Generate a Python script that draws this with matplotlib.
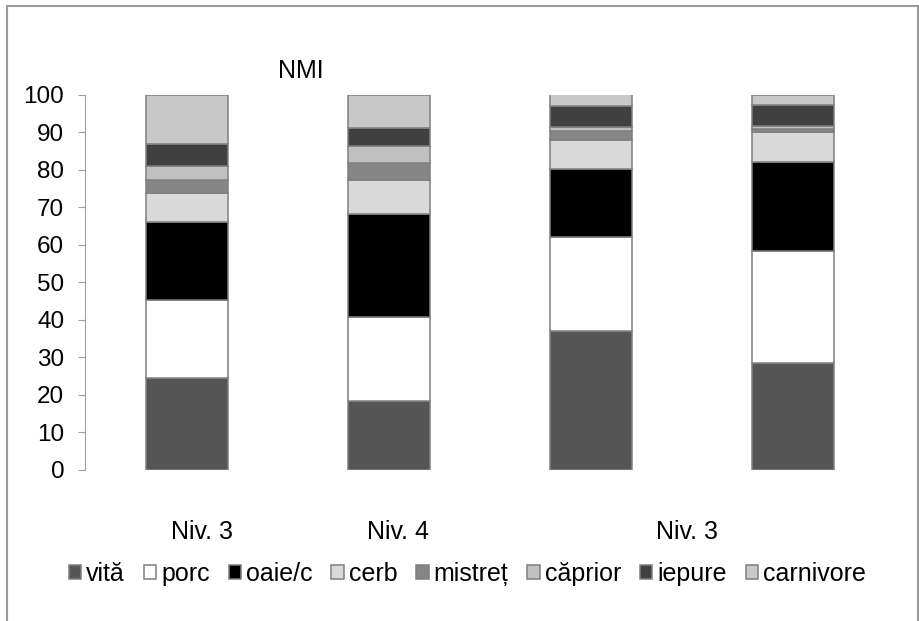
import matplotlib.pyplot as plt
import matplotlib.patches as mpatches
import numpy as np

plt.rcParams['font.family'] = ['Liberation Sans', 'DejaVu Sans']

# data (percent of NMI per bar)
species = ['vită', 'porc', 'oaie/c', 'cerb', 'mistreț', 'căprior', 'iepure', 'carnivore']
vita = [24.5, 18.5, 37.1, 28.6]
porc = [20.7, 22.4, 24.9, 29.8]
oaie = [20.8, 27.4, 18.3, 23.8]
cerb = [7.8, 8.9, 7.6, 7.8]
mistret = [3.5, 4.7, 2.5, 1.0]
caprior = [3.8, 4.5, 1.1, 0.6]
iepure = [5.8, 4.7, 5.6, 5.6]
carnivore = [13.1, 8.9, 3.1, 2.7]
group_labels = ['Niv. 3', 'Niv. 4', 'Niv. 3']
colors = ['#555555', '#ffffff', '#000000', '#d9d9d9', '#868686', '#c0c0c0', '#404040', '#c8c8c8']

series = [vita, porc, oaie, cerb, mistret, caprior, iepure, carnivore]

fig = plt.figure(figsize=(9.2, 6.21), dpi=100)
ax = fig.add_axes([0.0924, 0.2432, 0.880, 0.604])

x = np.arange(len(vita))
bottom = np.zeros(len(vita))
for name, vals, c in zip(species, series, colors):
    ax.bar(x, vals, width=0.405, bottom=bottom, color=c, edgecolor='#7f7f7f',
           linewidth=1.1, label=name)
    bottom += np.array(vals)

ax.set_xlim(-0.505, 3.505)
ax.set_ylim(0, 100)
ax.set_yticks(range(0, 101, 10))
ax.tick_params(axis='y', length=5, width=0.8, color='#a0a0a0', pad=10, labelsize=17.5)
ax.set_xticks([])
for s in ['top', 'right', 'bottom']:
    ax.spines[s].set_visible(False)
ax.spines['left'].set_color('#a0a0a0')
ax.spines['left'].set_linewidth(0.8)

ax.text(0.565, 106.3, 'NMI', ha='center', va='center', fontsize=18)

# category labels below the plot
label_x = [0.075, 1.045, 2.475]
for lx, lab in zip(label_x, group_labels):
    ax.text(lx, -16.5, lab, ha='center', va='center', fontsize=18)

fig.legend(loc='center', bbox_to_anchor=(0.508, 0.076), ncol=8, frameon=False,
           fontsize=18, handlelength=0.5, handleheight=0.5, handletextpad=0.2,
           columnspacing=0.75, borderaxespad=0)

# outer frame
fig.patches.append(mpatches.Rectangle((7 / 920, -0.01), 911 / 920, 1 - 6 / 621 + 0.01,
                                      transform=fig.transFigure, fill=False,
                                      edgecolor='#999999', linewidth=1.5))

fig.savefig('out.png', dpi=100)
